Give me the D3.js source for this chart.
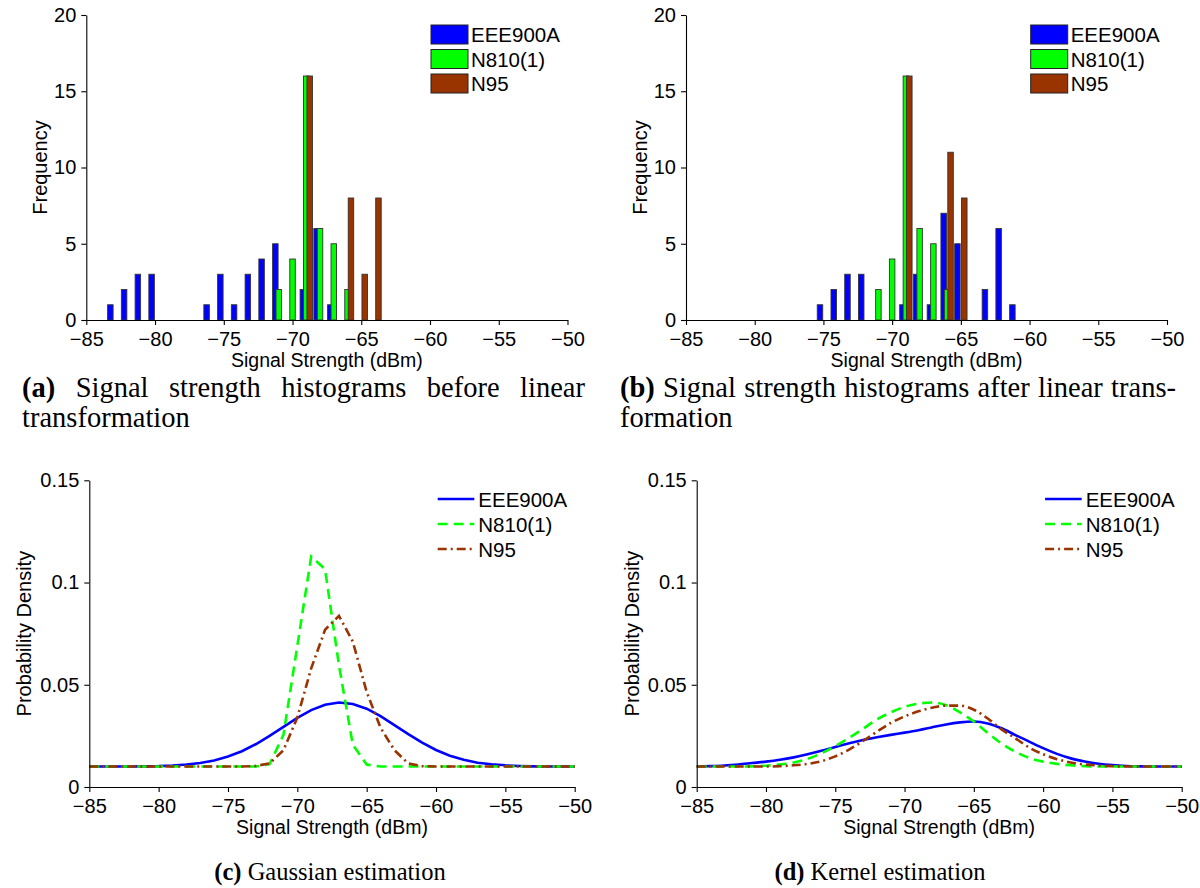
<!DOCTYPE html>
<html><head><meta charset="utf-8">
<script src="https://cdn.jsdelivr.net/npm/d3@7"></script>
<style>
body{margin:0;background:#fff}
svg text{font-family:"Liberation Sans",Arial,sans-serif;fill:#000}
</style>
</head><body>
<svg id="chart" width="1200" height="888"></svg>
<script>
// ---------- data ----------
const seriesNames = ["EEE900A", "N810(1)", "N95"];
const seriesColors = ["#0000ff", "#00ff00", "#993300"];
const xTickValues = [-85, -80, -75, -70, -65, -60, -55, -50];
const histYTicks = [0, 5, 10, 15, 20];
const pdfYTicks = [0, 0.05, 0.1, 0.15];

// histogram (a): [bin dBm, count]
const histBeforeEEE = [[-83,1],[-82,2],[-81,3],[-80,3],[-76,1],[-75,3],[-74,1],[-73,3],[-72,4],[-71,5],[-69,2],[-68,6],[-67,1]];
const histBeforeN810 = [[-71,2],[-70,4],[-69,16],[-68,6],[-67,5],[-66,2]];
const histBeforeN95 = [[-69,16],[-66,8],[-65,3],[-64,8]];
// histogram (b)
const histAfterEEE = [[-75,1],[-74,2],[-73,3],[-72,3],[-69,1],[-68,3],[-67,1],[-66,7],[-65,5],[-63,2],[-62,6],[-61,1]];
const histAfterN810 = [[-71,2],[-70,4],[-69,16],[-68,6],[-67,5],[-66,2]];
const histAfterN95 = [[-69,16],[-66,11],[-65,8]];

// density curves sampled at these signal strengths
const pdfX = [-85,-84,-83,-82,-81,-80,-79,-78,-77,-76,-75,-74,-73,-72,-71,-70,-69,-68,-67,-66,-65,-64,-63,-62,-61,-60,-59,-58,-57,-56,-55,-54,-53,-52,-51,-50];
const gaussEEE = [0.0100,0.0100,0.0100,0.0100,0.0101,0.0102,0.0105,0.0110,0.0117,0.0130,0.0149,0.0175,0.0209,0.0250,0.0294,0.0338,0.0376,0.0402,0.0413,0.0406,0.0383,0.0347,0.0303,0.0259,0.0217,0.0181,0.0153,0.0133,0.0119,0.0111,0.0106,0.0103,0.0101,0.0100,0.0100,0.0100];
const gaussN810 = [0.0100,0.0100,0.0100,0.0100,0.0100,0.0100,0.0100,0.0100,0.0100,0.0100,0.0100,0.0100,0.0100,0.0112,0.0255,0.0690,0.1127,0.1065,0.0596,0.0207,0.0110,0.0100,0.0100,0.0100,0.0100,0.0100,0.0100,0.0100,0.0100,0.0100,0.0100,0.0100,0.0100,0.0100,0.0100,0.0100];
const gaussN95 = [0.0100,0.0100,0.0100,0.0100,0.0100,0.0100,0.0100,0.0100,0.0100,0.0100,0.0100,0.0100,0.0103,0.0115,0.0180,0.0340,0.0580,0.0769,0.0837,0.0711,0.0465,0.0290,0.0180,0.0115,0.0102,0.0100,0.0100,0.0100,0.0100,0.0100,0.0100,0.0100,0.0100,0.0100,0.0100,0.0100];
const kernelEEE = [0.0100,0.0102,0.0105,0.0110,0.0117,0.0124,0.0133,0.0145,0.0160,0.0177,0.0196,0.0214,0.0230,0.0243,0.0255,0.0266,0.0278,0.0292,0.0306,0.0316,0.0320,0.0311,0.0287,0.0254,0.0222,0.0190,0.0162,0.0140,0.0125,0.0114,0.0107,0.0103,0.0101,0.0100,0.0100,0.0100];
const kernelN810 = [0.0100,0.0100,0.0100,0.0100,0.0101,0.0104,0.0110,0.0120,0.0138,0.0165,0.0200,0.0240,0.0285,0.0330,0.0365,0.0392,0.0408,0.0413,0.0400,0.0365,0.0320,0.0265,0.0213,0.0172,0.0142,0.0124,0.0113,0.0106,0.0102,0.0100,0.0100,0.0100,0.0100,0.0100,0.0100,0.0100];
const kernelN95 = [0.0100,0.0100,0.0100,0.0100,0.0100,0.0100,0.0102,0.0106,0.0113,0.0126,0.0150,0.0183,0.0225,0.0270,0.0313,0.0345,0.0370,0.0388,0.0398,0.0398,0.0378,0.0335,0.0282,0.0238,0.0193,0.0160,0.0136,0.0120,0.0110,0.0105,0.0102,0.0100,0.0100,0.0100,0.0100,0.0100];

const captionA = ["(a)", "Signal strength histograms before linear", "transformation"];
const captionB = ["(b)", "Signal strength histograms after linear trans-", "formation"];
const captionC = ["(c)", "Gaussian estimation"];
const captionD = ["(d)", "Kernel estimation"];

// ---------- drawing ----------
const svg = d3.select("#chart");
const TICK_FS = 20;

function axes(x, y, yTicks, xTitle, yTitle, yTitleX) {
  const gx = svg.append("g").attr("transform", `translate(0,${y.range()[0]})`)
    .call(d3.axisBottom(x).tickValues(xTickValues).tickSize(5).tickPadding(7).tickSizeOuter(0));
  const gy = svg.append("g").attr("transform", `translate(${x.range()[0]},0)`)
    .call(d3.axisLeft(y).tickValues(yTicks).tickFormat(d => String(d)).tickSize(5).tickPadding(5).tickSizeOuter(0));
  [gx, gy].forEach(g => {
    g.selectAll("text").attr("font-size", TICK_FS).style("font-family", '"Liberation Sans",Arial,sans-serif').attr("fill", "#000");
    g.selectAll("line,path").attr("stroke", "#000").attr("stroke-width", 1.1);
  });
  const xm = (x.range()[0] + x.range()[1]) / 2;
  svg.append("text").attr("x", xm).attr("y", y.range()[0] + 47).attr("text-anchor", "middle")
    .attr("font-size", 19.5).text(xTitle);
  const ym = (y.range()[0] + y.range()[1]) / 2;
  svg.append("text").attr("transform", `translate(${yTitleX},${ym}) rotate(-90)`)
    .attr("text-anchor", "middle").attr("dominant-baseline", "central").attr("font-size", 20).text(yTitle);
}

function histPanel(x0, x1, hists, yTitleX) {
  const x = d3.scaleLinear().domain([-85, -50]).range([x0, x1]);
  const y = d3.scaleLinear().domain([0, 20]).range([320, 15]);
  const offsets = [-0.25, 0, 0.25];
  const bw = 0.4;
  hists.forEach((h, i) => {
    svg.append("g").selectAll("rect").data(h).join("rect")
      .attr("x", d => x(d[0] + offsets[i] - bw / 2))
      .attr("width", x(-85 + bw) - x(-85))
      .attr("y", d => y(d[1]))
      .attr("height", d => y(0) - y(d[1]))
      .attr("fill", seriesColors[i]).attr("stroke", "#333").attr("stroke-width", 0.9);
  });
  axes(x, y, histYTicks, "Signal Strength (dBm)", "Frequency", yTitleX);
  // legend
  const lx = x0 + 344.7;
  seriesNames.forEach((n, i) => {
    const top = 25 + i * 24.5;
    svg.append("rect").attr("x", lx).attr("y", top).attr("width", 37).attr("height", 19)
      .attr("fill", seriesColors[i]).attr("stroke", "#222").attr("stroke-width", 1);
    svg.append("text").attr("x", lx + 40).attr("y", top + 9.5).attr("dominant-baseline", "central")
      .attr("font-size", 20.5).text(n);
  });
}

function pdfPanel(x0, x1, curves, curveType, yTitleX) {
  const x = d3.scaleLinear().domain([-85, -50]).range([x0, x1]);
  const y = d3.scaleLinear().domain([0, 0.15]).range([787, 480.3]);
  const dashes = [null, "10,6", "9,4,2,4"];
  const line = d3.line().x((d, j) => x(pdfX[j])).y(d => y(d)).curve(curveType);
  curves.forEach((c, i) => {
    svg.append("path").datum(c).attr("d", line).attr("fill", "none")
      .attr("stroke", seriesColors[i]).attr("stroke-width", 2.6)
      .attr("stroke-dasharray", dashes[i]);
  });
  axes(x, y, pdfYTicks, "Signal Strength (dBm)", "Probability Density", yTitleX);
  const lx = x0 + 348.4;
  seriesNames.forEach((n, i) => {
    const cy = 499 + i * 25;
    svg.append("line").attr("x1", lx).attr("x2", lx + 36.6).attr("y1", cy).attr("y2", cy)
      .attr("stroke", seriesColors[i]).attr("stroke-width", 2.6).attr("stroke-dasharray", dashes[i]);
    svg.append("text").attr("x", lx + 40.6).attr("y", cy).attr("dominant-baseline", "central")
      .attr("font-size", 20.5).text(n);
  });
}

histPanel(86.3, 567.5, [histBeforeEEE, histBeforeN810, histBeforeN95], 40);
histPanel(686, 1167, [histAfterEEE, histAfterN810, histAfterN95], 640);
pdfPanel(89.3, 574.7, [gaussEEE, gaussN810, gaussN95], d3.curveLinear, 24);
pdfPanel(696.7, 1181.7, [kernelEEE, kernelN810, kernelN95], d3.curveMonotoneX, 632);

// ---------- captions ----------
const SERIF = '"Liberation Serif","Times New Roman",serif';
function justified(label, text, xa, xb, yb, fs) {
  const words = [label].concat(text.split(" "));
  const nodes = words.map((w, k) => svg.append("text").attr("y", yb).attr("font-size", fs)
    .style("font-family", SERIF).attr("font-weight", k === 0 ? "bold" : "normal").text(w));
  const widths = nodes.map(n => n.node().getComputedTextLength());
  const gap = (xb - xa - d3.sum(widths)) / (words.length - 1);
  let cx = xa;
  nodes.forEach((n, k) => { n.attr("x", cx); cx += widths[k] + gap; });
}
function plainLine(text, xa, yb, fs) {
  svg.append("text").attr("x", xa).attr("y", yb).attr("font-size", fs).style("font-family", SERIF).text(text);
}
function centered(label, text, xc, yb, fs) {
  const t = svg.append("text").attr("x", xc).attr("y", yb).attr("font-size", fs)
    .attr("text-anchor", "middle").style("font-family", SERIF);
  t.append("tspan").attr("font-weight", "bold").text(label);
  t.append("tspan").text(" " + text);
}
justified(captionA[0], captionA[1], 22, 585, 397, 28.5);
plainLine(captionA[2], 22, 427, 28.5);
justified(captionB[0], captionB[1], 620, 1176, 397, 28.5);
plainLine(captionB[2], 620, 427, 28.5);
centered(captionC[0], captionC[1], 330, 880, 24.5);
centered(captionD[0], captionD[1], 880, 880, 24.5);
</script>
</body></html>
